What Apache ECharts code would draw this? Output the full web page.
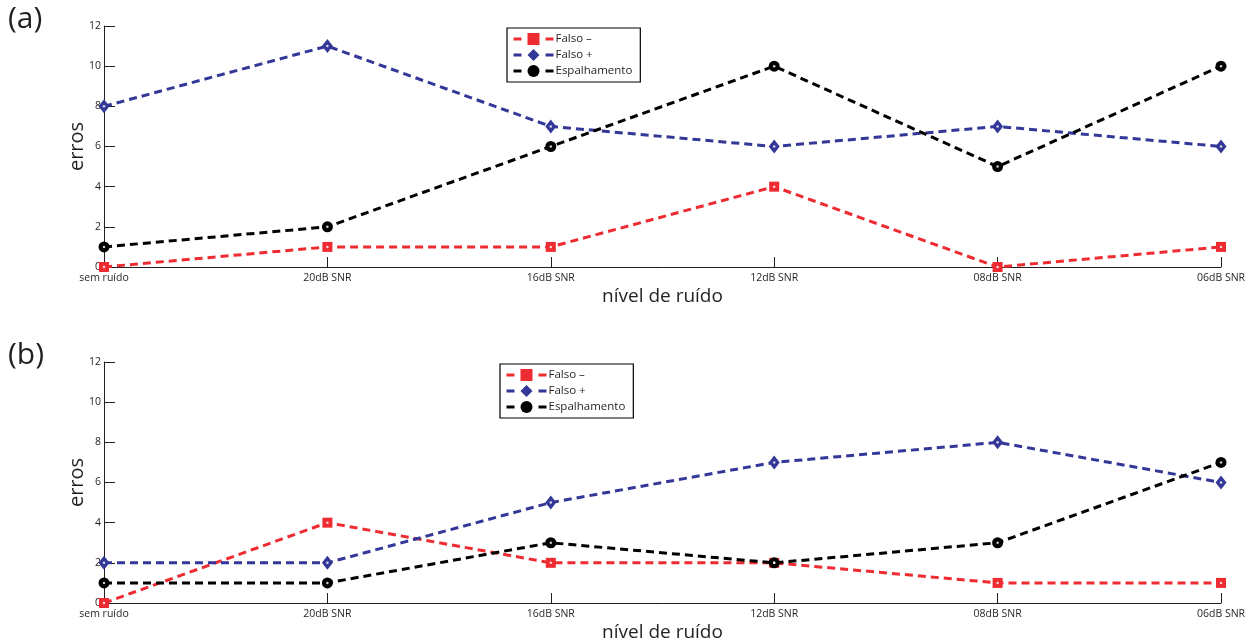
<!DOCTYPE html>
<html>
<head>
<meta charset="utf-8">
<script src="https://cdn.jsdelivr.net/npm/echarts@6/dist/echarts.min.js"></script>
<style>
  html, body { margin: 0; padding: 0; background: #fff; }
  #chart { width: 1248px; height: 644px; }
</style>
</head>
<body>
<div id="chart"></div>
<script>
// Noise levels along the horizontal axis
const categories = ['sem ruído', '20dB SNR', '16dB SNR', '12dB SNR', '08dB SNR', '06dB SNR'];
const yTicks = [0, 2, 4, 6, 8, 10, 12];

// Panel (a)
const falsoNegA = [0, 1, 1, 4, 0, 1];
const falsoPosA = [8, 11, 7, 6, 7, 6];
const espalhamentoA = [1, 2, 6, 10, 5, 10];

// Panel (b)
const falsoNegB = [0, 4, 2, 2, 1, 1];
const falsoPosB = [2, 2, 5, 7, 8, 6];
const espalhamentoB = [1, 1, 3, 2, 3, 7];

const seriesNames = ['Falso –', 'Falso +', 'Espalhamento'];

const RED = '#ee2b30';
const BLUE = '#333797';
const BLACK = '#000000';
const TEXT = '#231f20';
const FONT = '"Open Sans", "Noto Sans", sans-serif';

const chart = echarts.init(document.getElementById('chart'), null, { renderer: 'canvas' });

const panels = [
  { top: 26, neg: falsoNegA, pos: falsoPosA, esp: espalhamentoA, legendLeft: 507, legendTop: 28, tag: '(a)', tagTop: 4 },
  { top: 362, neg: falsoNegB, pos: falsoPosB, esp: espalhamentoB, legendLeft: 500, legendTop: 364, tag: '(b)', tagTop: 340 }
];

const grids = [], xAxes = [], yAxes = [], series = [], legends = [], graphics = [];

panels.forEach((p, i) => {
  grids.push({ left: 104, right: 27, top: p.top, height: 241, containLabel: false, outerBoundsMode: 'none' });
  xAxes.push({
    type: 'category', gridIndex: i, data: categories, boundaryGap: false,
    name: 'nível de ruído', nameLocation: 'middle', nameGap: 20, nameMoveOverlap: false,
    nameTextStyle: { fontFamily: FONT, fontSize: 19, color: TEXT },
    axisLine: { lineStyle: { color: TEXT, width: 1 } },
    axisTick: { inside: true, length: 10, lineStyle: { color: TEXT } },
    axisLabel: { fontFamily: FONT, fontSize: 10.5, color: TEXT, margin: 6 },
    splitLine: { show: false }
  });
  yAxes.push({
    type: 'value', gridIndex: i, min: yTicks[0], max: yTicks[yTicks.length - 1], interval: 2,
    name: 'erros', nameLocation: 'middle', nameGap: 17, nameRotate: 90, nameMoveOverlap: false,
    nameTextStyle: { fontFamily: FONT, fontSize: 20, color: TEXT },
    axisLine: { show: true, lineStyle: { color: TEXT, width: 1 } },
    axisTick: { show: true, inside: true, length: 11, lineStyle: { color: TEXT } },
    axisLabel: { fontFamily: FONT, fontSize: 10.5, color: TEXT, margin: 3 },
    splitLine: { show: false }
  });

  const defs = [
    { name: seriesNames[0], data: p.neg, color: RED, symbol: 'rect', size: 10 },
    { name: seriesNames[1], data: p.pos, color: BLUE, symbol: 'diamond', size: [11, 14] },
    { name: seriesNames[2], data: p.esp, color: BLACK, symbol: 'circle', size: 11 }
  ];
  defs.forEach(d => {
    series.push({
      type: 'line', name: d.name, xAxisIndex: i, yAxisIndex: i, data: d.data,
      symbol: d.symbol, symbolSize: d.size, showAllSymbol: true,
      lineStyle: { color: d.color, width: 3, type: [8, 5] },
      itemStyle: { color: d.color, borderWidth: 0 },
      z: 3
    });
    // small white dot at the centre of each marker
    series.push({
      type: 'scatter', xAxisIndex: i, yAxisIndex: i, data: d.data,
      symbol: 'circle', symbolSize: 2.5, silent: true,
      itemStyle: { color: '#ffffff' }, z: 4
    });
  });

  legends.push({
    left: p.legendLeft, top: p.legendTop, orient: 'vertical',
    data: seriesNames,
    padding: [5, 8, 5, 5], itemGap: 4, itemWidth: 40, itemHeight: 15,
    lineStyle: { width: 3, type: [8, 24] },
    borderColor: '#000', borderWidth: 1.2, borderRadius: 0, backgroundColor: '#fff',
    textStyle: { fontFamily: FONT, fontSize: 11.5, color: TEXT, padding: [0, 0, 0, -3] },
    selectedMode: false
  });

  graphics.push({
    type: 'text', left: 8, top: p.tagTop,
    style: { text: p.tag, font: '30px ' + FONT, fill: TEXT }
  });
});

chart.setOption({
  animation: false,
  backgroundColor: '#ffffff',
  grid: grids,
  xAxis: xAxes,
  yAxis: yAxes,
  legend: legends,
  series: series,
  graphic: graphics
});
</script>
</body>
</html>
